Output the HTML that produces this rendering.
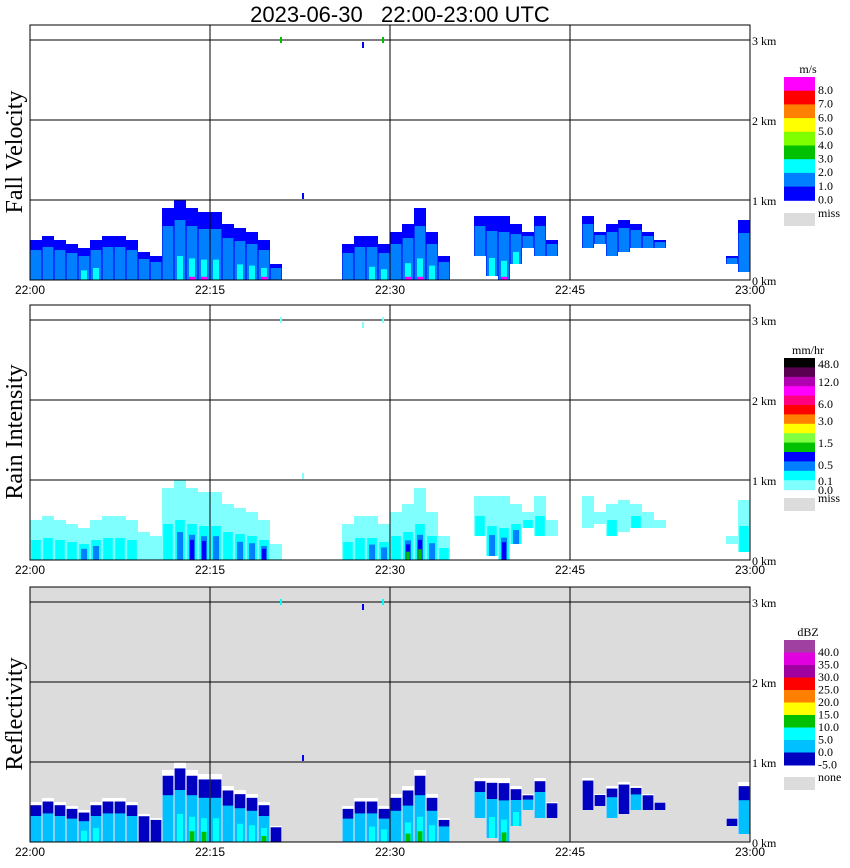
<!DOCTYPE html>
<html><head><meta charset="utf-8"><style>
body{margin:0;background:#fff;width:850px;height:868px;overflow:hidden}
svg{display:block}
.tk{font-family:"Liberation Sans",sans-serif;font-size:12px}
.km{font-family:"Liberation Serif",serif;font-size:12px}
.lg{font-family:"Liberation Serif",serif;font-size:12px}
.ttl{font-family:"Liberation Serif",serif;font-size:24px}
</style></head><body>
<svg id="c" width="850" height="868" xmlns="http://www.w3.org/2000/svg">
<text x="400" y="22" text-anchor="middle" font-family="Liberation Sans,sans-serif" font-size="22">2023-06-30&#160;&#160;&#160;22:00-23:00 UTC</text>
</svg>
<script>
// echo top height (km) per minute 22:00..22:59
const echoTop=[0.5,0.55,0.5,0.45,0.4,0.5,0.55,0.55,0.5,0.35,0.3,0.9,1.0,0.9,0.85,0.85,0.7,0.65,0.6,0.5,0.2,0,0,0,0,0,0.45,0.55,0.55,0.45,0.6,0.7,0.9,0.6,0.3,0,0,0.8,0.8,0.8,0.7,0.6,0.8,0.5,0,0,0.8,0.6,0.7,0.75,0.7,0.6,0.5,0,0,0,0,0,0.3,0.75];
// echo base height (km) per minute
const echoBase=[0,0,0,0,0,0,0,0,0,0,0,0,0,0,0,0,0,0,0,0,0,0,0,0,0,0,0,0,0,0,0,0,0,0,0,0,0,0.3,0.05,0,0.2,0.4,0.3,0.3,0,0,0.4,0.45,0.3,0.35,0.4,0.4,0.4,0,0,0,0,0,0.2,0.1];
// intensity class per minute (0 weak .. 4 strong core)
const intensity=[1,1,1,1,2,2,1,1,1,0,0,1,2,3,3,2,1,2,2,3,0,0,0,0,0,0,1,1,2,2,1,4,4,2,1,0,0,1,2,3,2,1,1,0,0,0,0,0,1,0,1,0,0,0,0,0,0,0,0,1];
const timeLabels=["22:00","22:15","22:30","22:45","23:00"];
const kmLabels=["0 km","1 km","2 km","3 km"];
const fvLabels=["8.0","7.0","6.0","5.0","4.0","3.0","2.0","1.0","0.0"];
const riLabels=["48.0","12.0","6.0","3.0","1.5","0.5","0.1","0.0"];
const dbLabels=["40.0","35.0","30.0","25.0","20.0","15.0","10.0","5.0","0.0","-5.0"];

const NS="http://www.w3.org/2000/svg";
const svg=document.getElementById('c');
function mk(t,a,p){const e=document.createElementNS(NS,t);for(const k in a)e.setAttribute(k,a[k]);(p||svg).appendChild(e);return e;}
const X0=30,X1=750,PW=720;
const xS=m=>X0+m*PW/60;
const panels=[{top:25,bot:280,bg:"#fff",name:"fall-velocity",title:"Fall Velocity",ty:152},
{top:305,bot:560,bg:"#fff",name:"rain-intensity",title:"Rain Intensity",ty:432},
{top:587,bot:842,bg:"#dcdcdc",name:"reflectivity",title:"Reflectivity",ty:714}];
const palettes=[
 ["#0000ff","#0080ff","#0080ff","#00ffff","#ff00ff"],
 ["#80ffff","#00ffff","#0080ff","#0000ff","#00c000"],
 ["#ffffff","#0000c0","#00c0ff","#00ffff","#00c000"]];
const fracSets=[[1,0.75,0.6,0.3,0.05],[1,0.5,0.35,0.28,0.15],[1.0,0.92,0.65,0.35,0.15]];
const widthSets=[[1,0.9,0.9,0.5,0.5],[1,0.8,0.5,0.35,0.3],[1,0.9,0.9,0.5,0.4]];
const extra=[1,0,1];
panels.forEach((p,pi)=>{
 const g=mk('g',{});
 
 
 const yS=km=>p.bot-km*80;
 mk('rect',{x:X0,y:p.top,width:PW,height:p.bot-p.top,fill:p.bg},g);
 const pal=palettes[pi],fracs=fracSets[pi],ws=widthSets[pi];
 for(let m=0;m<60;m++){
  const t=echoTop[m],b=echoBase[m];if(t<=0)continue;
  const lvl=intensity[m];
  for(let k=0;k<=Math.min(lvl+extra[pi],4);k++){
   if(pi===0&&k===4&&lvl<2)continue;
   let h=(t-b)*fracs[k];
   let w=PW/60*ws[k];
   if(pi===0&&k===4){h=0.04;}
   const x=xS(m)+(PW/60-w)/2;
   const r=mk('rect',{x:x,y:yS(b+h),width:w,height:h*80,fill:pal[k]},g);
   
   
  }
 }
 for(let i=1;i<=3;i++) mk('line',{x1:X0,x2:X1,y1:yS(i),y2:yS(i),stroke:"#000","stroke-width":1},g);
 for(let i=1;i<=3;i++) mk('line',{x1:X0+i*180,x2:X0+i*180,y1:p.top,y2:p.bot,stroke:"#000","stroke-width":1},g);
 mk('rect',{x:X0,y:p.top,width:PW,height:p.bot-p.top,fill:"none",stroke:"#000","stroke-width":1},g);
 timeLabels.forEach((l,i)=>{const t=mk('text',{x:X0+i*180,y:p.bot+14,"text-anchor":"middle",class:"tk"},g);t.textContent=l;
  });
 kmLabels.forEach((l,i)=>{const t=mk('text',{x:752,y:yS(i)+5,class:"km"},g);t.textContent=l;
  });
 const tt=mk('text',{x:0,y:0,class:"ttl","text-anchor":"middle",transform:`translate(22,${p.ty}) rotate(-90)`},g);
 tt.textContent=p.title;
 
});
function legend(top,cols,h,labels,labelYs,unit,missY,missTxt,name){
 const g=mk('g',{});
 
 
 cols.forEach((c,i)=>mk('rect',{x:784,y:top+i*h,width:31,height:h+0.5,fill:c},g));
 const u=mk('text',{x:808,y:top-4,"text-anchor":"middle",class:"lg","font-size":"11"},g);u.textContent=unit;
 labels.forEach((l,i)=>{const t=mk('text',{x:818,y:labelYs[i],class:"lg"},g);t.textContent=l;});
 mk('rect',{x:784,y:missY,width:31,height:13,fill:"#dcdcdc"},g);
 const m=mk('text',{x:818,y:missY+4,class:"lg"},g);m.textContent=missTxt;
}
legend(77,["#ff00ff","#ff0000","#ff8000","#ffff00","#80ff00","#00c000","#00ffff","#0080ff","#0000ff"],13.7,fvLabels,fvLabels.map((_,i)=>94+i*13.7),"m/s",213,"miss","fall-velocity-legend");
legend(358,["#000000","#5a0050","#b000b0","#ff00ff","#ff0080","#ff0000","#ff8000","#ffff00","#80ff40","#00c000","#0000ff","#0080ff","#00ffff","#80ffff"],9.4,riLabels,[368,386,408,425,447,469,485,494],"mm/hr",498,"miss","rain-intensity-legend");
legend(640,["#a040a0","#e000e0","#a000a0","#ff0000","#ff8000","#ffff00","#00c000","#00ffff","#00c0ff","#0000c0"],12.5,dbLabels,dbLabels.map((_,i)=>656+i*12.5),"dBZ",777,"none","reflectivity-legend");
[[280,37,"#00c000"],[362,42,"#0000ff"],[382,37,"#00c000"],[302,193,"#0000ff"]].forEach(s=>{
 [0,280,562].forEach((o,k)=>{const r=mk('rect',{x:s[0],y:s[1]+o,width:2,height:6,fill:k===1?"#80ffff":(k===2&&s[2]=="#00c000"?"#00ffff":s[2])});
 });
});
</script>
</body></html>
